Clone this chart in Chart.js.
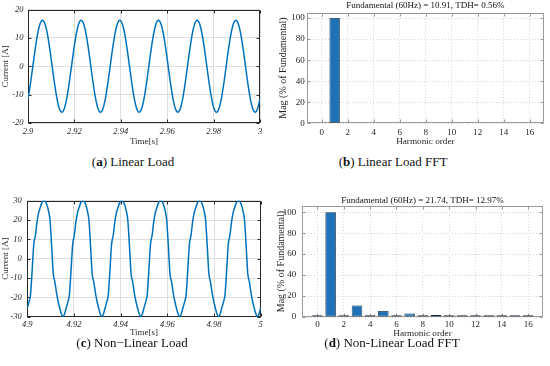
<!DOCTYPE html>
<html lang="en">
<head>
<meta charset="UTF-8">
<title>Linear / Non-Linear Load</title>
<script src="https://cdn.jsdelivr.net/npm/chart.js"></script>
<style>
    body { margin: 0; background: #fff; }
    #page { position: relative; width: 550px; height: 366px; overflow: hidden; }
    canvas { position: absolute; }
    .cap { position: absolute; font-family: "Liberation Serif", serif; font-size: 13px; color: #111;
           transform: translate(-50%, -50%); white-space: nowrap; }
</style>
</head>
<body>
<div id="page">
    <canvas id="chartA" width="275" height="150" style="left:0;top:0"></canvas>
    <canvas id="chartB" width="275" height="150" style="left:275px;top:0"></canvas>
    <canvas id="chartC" width="275" height="160" style="left:0;top:180px"></canvas>
    <canvas id="chartD" width="275" height="160" style="left:275px;top:180px"></canvas>
    <div class="cap" style="left:133px;top:162px">(<b>a</b>) Linear Load</div>
    <div class="cap" style="left:393px;top:162px">(<b>b</b>) Linear Load FFT</div>
    <div class="cap" style="left:132px;top:343px">(<b>c</b>) Non&minus;Linear Load</div>
    <div class="cap" style="left:392px;top:343px">(<b>d</b>) Non-Linear Load FFT</div>
</div>

<script>
// (a) linear load current, 16 samples per 60 Hz cycle from 2.9 s to 3 s
const startA = 2.9, stepA = 0.1 / 96;
const currentA = [
    -11.5, -6.2, 0, 6.2, 11.5, 15.0, 16.2, 15.0, 11.5, 6.2, 0, -6.2, -11.5, -15.0, -16.2, -15.0,
    -11.5, -6.2, 0, 6.2, 11.5, 15.0, 16.2, 15.0, 11.5, 6.2, 0, -6.2, -11.5, -15.0, -16.2, -15.0,
    -11.5, -6.2, 0, 6.2, 11.5, 15.0, 16.2, 15.0, 11.5, 6.2, 0, -6.2, -11.5, -15.0, -16.2, -15.0,
    -11.5, -6.2, 0, 6.2, 11.5, 15.0, 16.2, 15.0, 11.5, 6.2, 0, -6.2, -11.5, -15.0, -16.2, -15.0,
    -11.5, -6.2, 0, 6.2, 11.5, 15.0, 16.2, 15.0, 11.5, 6.2, 0, -6.2, -11.5, -15.0, -16.2, -15.0,
    -11.5, -6.2, 0, 6.2, 11.5, 15.0, 16.2, 15.0, 11.5, 6.2, 0, -6.2, -11.5, -15.0, -16.2, -15.0,
    -11.5
];

// (c) non-linear load current, 24 samples per cycle from 4.9 s to 5 s
const startC = 4.9, stepC = 0.1 / 144;
const currentC = [
    -25.5, -22.5, -18.5, -6, 7.5, 12, 19, 23.8, 26.5, 29, 30, 29.8, 28, 25, 20, 7, -7.5, -12, -17.5, -22, -25.5, -28.5, -30, -28.5,
    -25.5, -22.5, -18.5, -6, 7.5, 12, 19, 23.8, 26.5, 29, 30, 29.8, 28, 25, 20, 7, -7.5, -12, -17.5, -22, -25.5, -28.5, -30, -28.5,
    -25.5, -22.5, -18.5, -6, 7.5, 12, 19, 23.8, 26.5, 29, 30, 29.8, 28, 25, 20, 7, -7.5, -12, -17.5, -22, -25.5, -28.5, -30, -28.5,
    -25.5, -22.5, -18.5, -6, 7.5, 12, 19, 23.8, 26.5, 29, 30, 29.8, 28, 25, 20, 7, -7.5, -12, -17.5, -22, -25.5, -28.5, -30, -28.5,
    -25.5, -22.5, -18.5, -6, 7.5, 12, 19, 23.8, 26.5, 29, 30, 29.8, 28, 25, 20, 7, -7.5, -12, -17.5, -22, -25.5, -28.5, -30, -28.5,
    -25.5, -22.5, -18.5, -6, 7.5, 12, 19, 23.8, 26.5, 29, 30, 29.8, 28, 25, 20, 7, -7.5, -12, -17.5, -22, -25.5, -28.5, -30, -28.5,
    -25.5
];

// harmonic spectra (% of fundamental)
const harmonics = [0, 1, 2, 3, 4, 5, 6, 7, 8, 9, 10, 11, 12, 13, 14, 15, 16];
const magB = [0, 100, 0, 0, 0, 0, 0, 0, 0, 0, 0.4, 0.4, 0, 0, 0, 0, 0];
const magD = [0.7, 100, 0.5, 10.9, 0.4, 5.7, 0.4, 3.4, 0.4, 1.9, 0.3, 1.0, 0.3, 1.3, 0.2, 1.0, 0.1];

const titleB = 'Fundamental (60Hz) = 10.91, TDH= 0.56%';
const titleD = 'Fundamental (60Hz) = 21.74, TDH= 12.97%';

const serif = "'Liberation Serif', 'Times New Roman', serif";
const ink = '#262626';
const blue = '#0072BD';

// frame round the plot area with small inward ticks (matlab style), drawn under the data
const boxPlugin = {
    id: 'box',
    beforeDatasetsDraw(chart, args, opts) {
        const { ctx, chartArea: a, scales } = chart;
        const L = Math.round(a.left) + 0.5, R = Math.round(a.right) - 0.5;
        const T = Math.round(a.top) + 0.5, B = Math.round(a.bottom) - 0.5;
        ctx.save();
        ctx.strokeStyle = opts.color;
        ctx.lineWidth = 1;
        ctx.beginPath();
        scales.x.ticks.forEach(tk => {
            const p = Math.round(scales.x.getPixelForValue(tk.value)) + 0.5;
            ctx.moveTo(p, B); ctx.lineTo(p, B - 3);
            ctx.moveTo(p, T); ctx.lineTo(p, T + 3);
        });
        scales.y.ticks.forEach(tk => {
            const p = Math.round(scales.y.getPixelForValue(tk.value)) + 0.5;
            ctx.moveTo(L, p); ctx.lineTo(L + 3, p);
            ctx.moveTo(R, p); ctx.lineTo(R - 3, p);
        });
        ctx.stroke();
        ctx.strokeRect(L, T, R - L, B - T);
        ctx.restore();
    }
};

function samples(start, step, values) {
    return values.map((v, i) => ({ x: start + i * step, y: v }));
}

function waveChart(id, start, step, values, yLim, lay) {
    return new Chart(document.getElementById(id), {
        type: 'line',
        data: {
            datasets: [{
                data: samples(start, step, values),
                borderColor: blue,
                borderWidth: 1.5,
                pointRadius: 0,
                cubicInterpolationMode: 'monotone',
                fill: false
            }]
        },
        options: {
            responsive: false,
            animation: false,
            layout: { padding: { top: lay.top, right: lay.right, left: 0, bottom: 0 } },
            plugins: { legend: { display: false }, tooltip: { enabled: false }, box: { color: ink } },
            scales: {
                x: {
                    type: 'linear',
                    min: start, max: start + 0.1,
                    afterFit: s => { s.height = lay.xh; },
                    border: { display: false },
                    grid: { color: '#dedede', drawTicks: false },
                    ticks: {
                        stepSize: 0.02, includeBounds: false, maxRotation: 0, padding: lay.xpad,
                        color: ink, font: { family: serif, size: 8.5, style: 'italic' },
                        callback: v => String(+v.toFixed(2))
                    },
                    title: { display: true, text: 'Time[s]', color: ink, font: { family: serif, size: 9 },
                             padding: { top: 0, bottom: lay.xtp } }
                },
                y: {
                    min: -yLim, max: yLim,
                    afterFit: s => { s.width = lay.yw; },
                    border: { display: false },
                    grid: { color: '#dedede', drawTicks: false },
                    ticks: { stepSize: 10, padding: lay.ypad, color: ink,
                             font: { family: serif, size: 8.5, style: 'italic' } },
                    title: { display: true, text: 'Current [A]', color: ink, font: { family: serif, size: 9 },
                             padding: { top: lay.ytp, bottom: 0 } }
                }
            }
        },
        plugins: [boxPlugin]
    });
}

function fftChart(id, mags, title, lay) {
    return new Chart(document.getElementById(id), {
        type: 'bar',
        data: {
            datasets: [{
                data: harmonics.map((h, i) => ({ x: h, y: mags[i] })),
                backgroundColor: '#1f72b8',
                borderColor: '#1b2a3a',
                borderWidth: 0.8,
                borderSkipped: false,
                minBarLength: lay.minBar,
                barPercentage: 0.8,
                categoryPercentage: 1
            }]
        },
        options: {
            responsive: false,
            animation: false,
            layout: { padding: { top: lay.top, right: lay.right, left: 0, bottom: 0 } },
            plugins: {
                legend: { display: false }, tooltip: { enabled: false },
                box: { color: '#9a9a9a' },
                title: { display: true, text: title, fullSize: false, color: '#111',
                         font: { family: serif, size: 9, weight: 'normal' },
                         padding: { top: 0, bottom: lay.tpad } }
            },
            scales: {
                x: {
                    type: 'linear',
                    min: -1.15, max: 17.1,
                    offset: false,
                    afterFit: s => { s.height = lay.xh; },
                    border: { display: false, dash: [1, 2] },
                    grid: { color: '#d4d4d4', drawTicks: false, offset: false },
                    ticks: { stepSize: 2, includeBounds: false, maxRotation: 0, padding: lay.xpad,
                             color: ink, font: { family: serif, size: 9 } },
                    title: { display: true, text: 'Harmonic order', color: ink, font: { family: serif, size: 9.2 },
                             padding: { top: 0, bottom: lay.xtp } }
                },
                y: {
                    min: 0, max: lay.ymax,
                    afterFit: s => { s.width = lay.yw; },
                    border: { display: false, dash: [1, 2] },
                    grid: { color: '#d4d4d4', drawTicks: false },
                    ticks: { stepSize: 20, includeBounds: false, padding: lay.ypad, color: ink,
                             font: { family: serif, size: 9 } },
                    title: { display: true, text: 'Mag (% of Fundamental)', color: ink,
                             font: { family: serif, size: 10 }, padding: { top: lay.ytp, bottom: 0 } }
                }
            }
        },
        plugins: [boxPlugin]
    });
}

waveChart('chartA', startA, stepA, currentA, 20,
    { top: 7, right: 15, xh: 27, yw: 28, xpad: 4, ypad: 4.5, xtp: 3, ytp: 0 });
waveChart('chartC', startC, stepC, currentC, 30,
    { top: 20.7, right: 14.3, xh: 23.3, yw: 27.3, xpad: 2.5, ypad: 5.5, xtp: 1.7, ytp: 0 });
fftChart('chartB', magB, titleB,
    { top: 0, right: 6, tpad: 2, xh: 26.7, yw: 31.7, ymax: 105, xpad: 3.5, ypad: 2, xtp: 3, ytp: 2.5, minBar: 0 });
fftChart('chartD', magD, titleD,
    { top: 15.3, right: 7.3, tpad: 0, xh: 23, yw: 27.3, ymax: 105.8, xpad: 2.5, ypad: 6, xtp: 0.7, ytp: 0.2, minBar: 1.8 });
</script>
</body>
</html>
